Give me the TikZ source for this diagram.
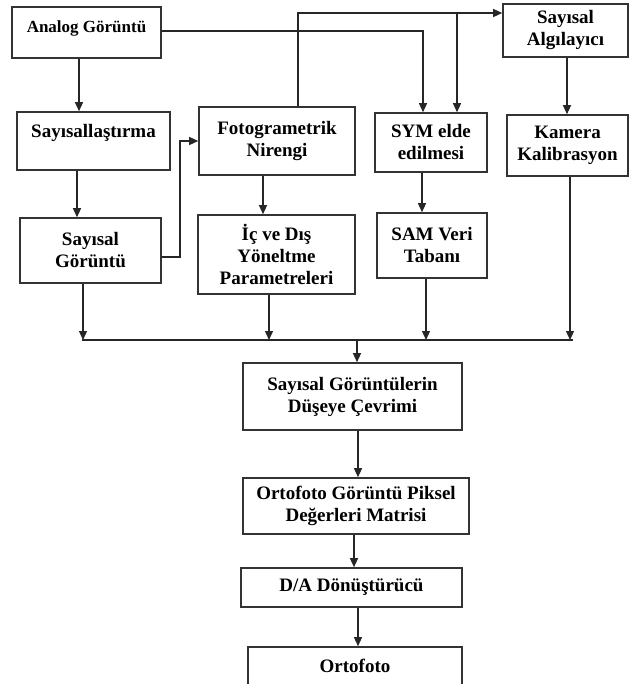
\documentclass[tikz,border=0pt]{standalone}
\usepackage{fontspec}
\setmainfont{Liberation Serif}
\usetikzlibrary{arrows.meta}
\begin{document}
\begin{tikzpicture}[x=1pt,y=-1pt,
  box/.style={draw=black!80, line width=1.6pt, inner sep=0pt, align=center,
    font=\bfseries\fontsize{19}{22}\selectfont, text=black},
  conn/.style={draw=black!85, line width=1.3pt},
  arr/.style={conn, -{Triangle[length=9pt,width=8pt]}}]
\clip (0,0) rectangle (629,684);
% boxes
\node[box, minimum width=149pt, minimum height=51pt, font=\bfseries\fontsize{17}{20}\selectfont,
  text height=26pt, text depth=25pt] (analog) at (86.5,32.5) {Analog Görüntü};
\node[box, minimum width=153pt, minimum height=58pt, text height=25.5pt, text depth=32.5pt]
  (sayis) at (93.5,141) {Sayısallaştırma};
\node[box, minimum width=141pt, minimum height=65pt] (saygor) at (90.5,250.5) {Sayısal\\Görüntü};
\node[box, minimum width=156pt, minimum height=68pt] (foto) at (277,141) {Fotogrametrik\\Nirengi};
\node[box, minimum width=157pt, minimum height=79pt] (ic) at (276.5,254.5) {İç ve Dış\\Yöneltme\\Parametreleri};
\node[box, minimum width=112pt, minimum height=59pt] (sym) at (431,142.5) {SYM elde\\edilmesi};
\node[box, minimum width=110pt, minimum height=65pt] (sam) at (432,245.5) {SAM Veri\\Tabanı};
\node[box, minimum width=125pt, minimum height=53pt] (alg) at (565.5,30.5) {Sayısal\\Algılayıcı};
\node[box, minimum width=121pt, minimum height=61pt] (kam) at (567.5,145.5) {Kamera\\Kalibrasyon};
\node[box, minimum width=219pt, minimum height=67pt] (sgd) at (352.5,396.5) {Sayısal Görüntülerin\\Düşeye Çevrimi};
\node[box, minimum width=226pt, minimum height=56pt] (ogp) at (356,506) {Ortofoto Görüntü Piksel\\Değerleri Matrisi};
\node[box, minimum width=221pt, minimum height=39pt] (da) at (351.5,587.5) {D/A Dönüştürücü};
\node[box, minimum width=214pt, minimum height=63pt, text height=25pt, text depth=38pt]
  (orto) at (355,678.5) {Ortofoto};
% helper coordinates
\coordinate (xA) at (79,0);
\coordinate (xB) at (77,0);
\coordinate (xC) at (83,0);
\coordinate (xD) at (263,0);
\coordinate (xE) at (269,0);
\coordinate (xF) at (298,0);
\coordinate (xG) at (423,0);
\coordinate (xH) at (457,0);
\coordinate (xI) at (422,0);
\coordinate (xJ) at (426,0);
\coordinate (xK) at (567,0);
\coordinate (xL) at (570,0);
\coordinate (xM) at (357,0);
\coordinate (xN) at (358,0);
\coordinate (xO) at (354,0);
\coordinate (xP) at (358,0);
\coordinate (xQ) at (180,0);
\coordinate (yS) at (0,257);
\coordinate (yT) at (0,13);
\coordinate (yU) at (0,31);
\coordinate (bL) at (82,340);
\coordinate (bR) at (573,340);
% connectors
\draw[arr] (analog.south -| xA) -- (sayis.north -| xA);
\draw[arr] (sayis.south -| xB) -- (saygor.north -| xB);
\draw[arr] (saygor.east |- yS) -| (xQ |- foto.west) -- (foto.west);
\draw[arr] (analog.east |- yU) -| (sym.north -| xG);
\draw[arr] (foto.north -| xF) |- (alg.west |- yT);
\draw[arr] (xH |- yT) -- (sym.north -| xH);
\draw[arr] (alg.south -| xK) -- (kam.north -| xK);
\draw[arr] (foto.south -| xD) -- (ic.north -| xD);
\draw[arr] (sym.south -| xI) -- (sam.north -| xI);
\draw[arr] (saygor.south -| xC) -- (bL -| xC);
\draw[arr] (ic.south -| xE) -- (bL -| xE);
\draw[arr] (sam.south -| xJ) -- (bL -| xJ);
\draw[arr] (kam.south -| xL) -- (bL -| xL);
\draw[conn] (bL) -- (bR);
\draw[arr] (bL -| xM) -- (sgd.north -| xM);
\draw[arr] (sgd.south -| xN) -- (ogp.north -| xN);
\draw[arr] (ogp.south -| xO) -- (da.north -| xO);
\draw[arr] (da.south -| xP) -- (orto.north -| xP);
\end{tikzpicture}
\end{document}
